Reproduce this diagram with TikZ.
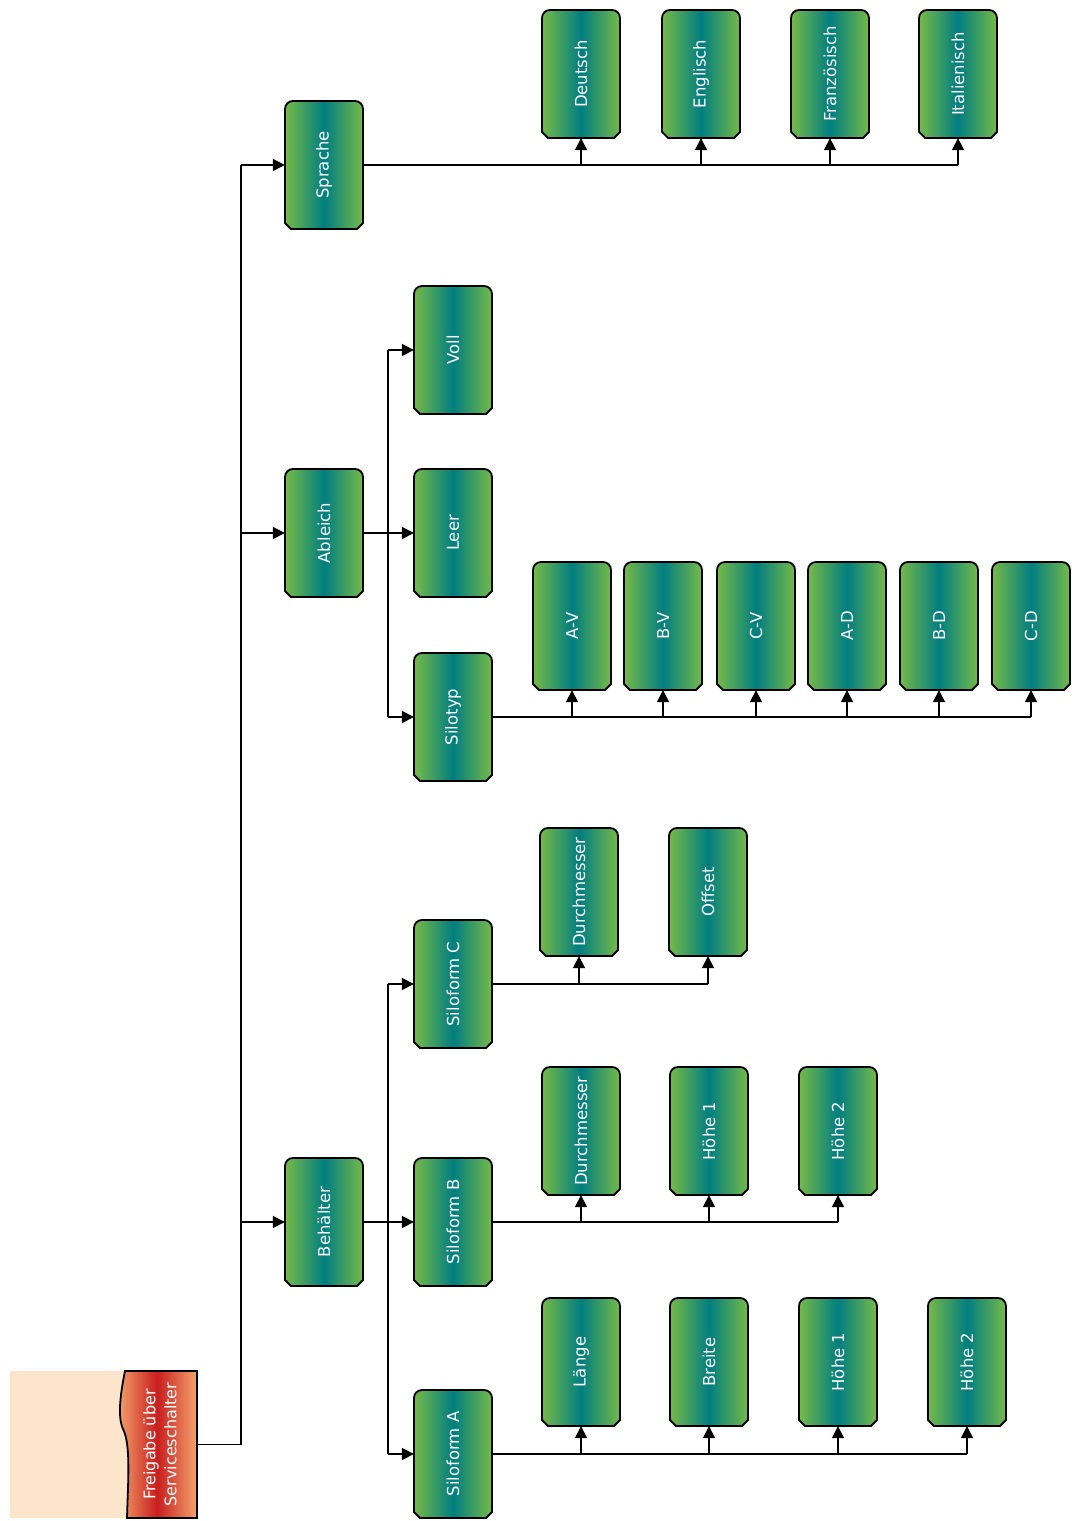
\documentclass[tikz,border=0pt]{standalone}
\usepackage{fontspec}
\setmainfont{DejaVu Sans}
\usetikzlibrary{arrows.meta,calc}
\definecolor{gedge}{RGB}{118,186,72}
\definecolor{gmid}{RGB}{0,126,128}
\definecolor{redge}{RGB}{244,164,110}
\definecolor{rmid}{RGB}{200,30,30}
\definecolor{peach}{RGB}{253,229,204}
\tikzset{
  boxnode/.style={minimum width=78pt, minimum height=128pt, inner sep=0pt},
  boxshape/.style={draw=black, line width=1.8pt, left color=gedge, right color=gedge, middle color=gmid},
  txt/.style={rotate=90, text=white, font=\fontsize{16.5}{18}\selectfont, inner sep=0pt},
  ln/.style={draw=black, line width=1.8pt},
  arr/.style={ln, -{Triangle[length=12pt,width=12pt]}},
}
\newcommand{\gbox}[4]{%
  \begin{scope}[shift={(#2,#3)}]
    \path[boxshape] (-39,-58) -- (-39,56) arc[start angle=180,end angle=90,radius=8] -- (31,64)
      arc[start angle=90,end angle=0,radius=8] -- (39,-58) -- (33,-64) -- (-33,-64) -- cycle;
  \end{scope}
  \node[boxnode] (#1) at (#2,#3) {};
  \node[txt] (#1-t) at (#1.center) {#4};
}
\begin{document}
\begin{tikzpicture}[x=1pt,y=1pt]
\useasboundingbox (0,0) rectangle (1080,1521);
% start node
\fill[peach] (10,3) rectangle (197,150);
\path[draw=black, line width=1.8pt, left color=redge, right color=redge, middle color=rmid]
  (127,3) -- (197,3) -- (197,150) -- (125,150)
  .. controls (121,130) and (117,105) .. (123,92)
  .. controls (131,76) and (128,40) .. (127,3) -- cycle;
\node[minimum width=73pt, minimum height=147pt, inner sep=0pt] (start) at (161,76.5) {};
\node[txt, align=center, font=\fontsize{16}{21}\selectfont] (start-t) at (160,76.5) {Freigabe über\\Serviceschalter};

% level 1
\gbox{sprache}{324}{1356}{Sprache}
\gbox{ableich}{324}{988}{Ableich}
\gbox{behaelter}{324}{299}{Behälter}
% level 2
\gbox{voll}{453}{1171}{Voll}
\gbox{leer}{453}{988}{Leer}
\gbox{silotyp}{453}{804}{Silotyp}
\gbox{sfc}{453}{537}{Siloform C}
\gbox{sfb}{453}{299}{Siloform B}
\gbox{sfa}{453}{67}{Siloform A}
% languages
\gbox{deutsch}{581}{1447}{Deutsch}
\gbox{englisch}{701}{1447}{Englisch}
\gbox{franz}{830}{1447}{Französisch}
\gbox{ital}{958}{1447}{Italienisch}
% silotyp children
\gbox{av}{572}{895}{A-V}
\gbox{bv}{663}{895}{B-V}
\gbox{cv}{756}{895}{C-V}
\gbox{ad}{847}{895}{A-D}
\gbox{bd}{939}{895}{B-D}
\gbox{cd}{1031}{895}{C-D}
% siloform C children
\gbox{cdm}{579}{629}{Durchmesser}
\gbox{coff}{708}{629}{Offset}
% siloform B children
\gbox{bdm}{581}{390}{Durchmesser}
\gbox{bh1}{709}{390}{Höhe 1}
\gbox{bh2}{838}{390}{Höhe 2}
% siloform A children
\gbox{alae}{581}{159}{Länge}
\gbox{abr}{709}{159}{Breite}
\gbox{ah1}{838}{159}{Höhe 1}
\gbox{ah2}{967}{159}{Höhe 2}

% trunk
\coordinate (trunk) at (241,1356);
\draw[ln] (start.east) -| (trunk);
\draw[arr] (trunk) -- (sprache.west);
\draw[arr] (trunk |- ableich.west) -- (ableich.west);
\draw[arr] (trunk |- behaelter.west) -- (behaelter.west);

% Ableich
\coordinate (ab) at (388,1171);
\draw[ln] (ableich.east) -- (ableich.east -| ab);
\draw[ln] (ab) -- (ab |- silotyp.west);
\draw[arr] (ab) -- (voll.west);
\draw[arr] (ab |- leer.west) -- (leer.west);
\draw[arr] (ab |- silotyp.west) -- (silotyp.west);

% Behaelter
\coordinate (be) at (388,537);
\draw[ln] (behaelter.east) -- (behaelter.east -| be);
\draw[ln] (be) -- (be |- sfa.west);
\draw[arr] (be) -- (sfc.west);
\draw[arr] (be |- sfb.west) -- (sfb.west);
\draw[arr] (be |- sfa.west) -- (sfa.west);

% Sprache
\draw[ln] (sprache.east) -- (sprache.east -| ital.south);
\foreach \n in {deutsch,englisch,franz,ital}
  \draw[arr] (sprache.east -| \n.south) -- (\n.south);

% Silotyp
\draw[ln] (silotyp.east) -- (silotyp.east -| cd.south);
\foreach \n in {av,bv,cv,ad,bd,cd}
  \draw[arr] (silotyp.east -| \n.south) -- (\n.south);

% Siloform C
\draw[ln] (sfc.east) -- (sfc.east -| coff.south);
\foreach \n in {cdm,coff}
  \draw[arr] (sfc.east -| \n.south) -- (\n.south);

% Siloform B
\draw[ln] (sfb.east) -- (sfb.east -| bh2.south);
\foreach \n in {bdm,bh1,bh2}
  \draw[arr] (sfb.east -| \n.south) -- (\n.south);

% Siloform A
\draw[ln] (sfa.east) -- (sfa.east -| ah2.south);
\foreach \n in {alae,abr,ah1,ah2}
  \draw[arr] (sfa.east -| \n.south) -- (\n.south);
\end{tikzpicture}
\end{document}
